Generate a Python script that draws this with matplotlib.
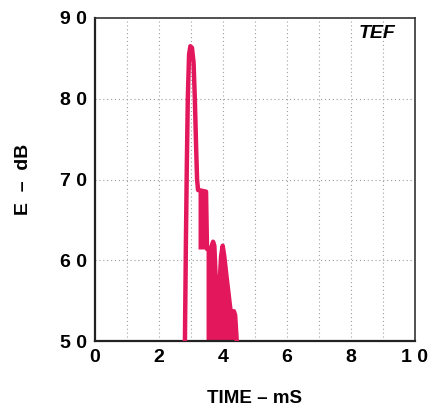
import matplotlib
matplotlib.use("Agg")
from matplotlib import pyplot as plt

# ETC trace
time_ms = [2.81, 2.84, 2.87, 2.90, 2.94, 2.98, 3.03, 3.08, 3.12, 3.16, 3.19, 3.22,
           3.35, 3.47, 3.50, 3.60, 3.65, 3.69, 3.73, 3.78, 3.83, 3.88, 3.94, 3.99,
           4.04, 4.11, 4.17, 4.22, 4.27, 4.31, 4.34, 4.38, 4.43]
level_db = [50.0, 62.0, 72.0, 80.0, 85.5, 86.5, 86.3, 84.5, 80.0, 74.0, 70.0, 68.7,
            68.6, 68.5, 61.4, 61.3, 61.8, 62.3, 61.8, 57.0, 50.5, 56.0, 60.5, 61.8,
            60.5, 58.0, 56.0, 54.3, 52.9, 53.4, 53.7, 53.2, 50.0]

x_ticks = [0, 2, 4, 6, 8, 10]
x_labels = ['0', '2', '4', '6', '8', '1 0']
y_ticks = [50, 60, 70, 80, 90]
y_labels = ['5 0', '6 0', '7 0', '8 0', '9 0']

trace = '#e3175c'

fig = plt.figure(figsize=(4.34, 4.08), dpi=100)
ax = fig.add_axes([0.219, 0.164, 0.737, 0.792])

# grid
for xv in range(1, 10):
    ax.axvline(xv, color='#9aa59a', lw=0.8, ls=(0, (1, 2.5)), zorder=1)
for yv in [60, 70, 80]:
    ax.axhline(yv, color='#9a9a9a', lw=0.8, ls=(0, (1, 2.5)), zorder=1)

# plateau and lower part of the decay are filled solid
plateau = [3.2 <= t <= 3.5 for t in time_ms]
lower = [t >= 3.47 for t in time_ms]
ax.fill_between(time_ms, 61.4, level_db, where=plateau, color=trace, lw=0, zorder=2)
ax.fill_between(time_ms, 50, level_db, where=lower, color=trace, lw=0, zorder=2)
ax.plot(time_ms, level_db, color=trace, lw=3.2, solid_joinstyle='round', zorder=3)

ax.set_xlim(0, 10)
ax.set_ylim(50, 90)
ax.set_xticks(x_ticks)
ax.set_xticklabels(x_labels)
ax.set_yticks(y_ticks)
ax.set_yticklabels(y_labels)
ax.tick_params(length=0, pad=6, labelsize=14)
for lab in ax.get_xticklabels() + ax.get_yticklabels():
    lab.set_fontweight('bold')
    lab.set_family('Liberation Sans')

for side in ['left', 'bottom']:
    ax.spines[side].set_linewidth(1.6)
    ax.spines[side].set_color('#222222')
for side in ['top', 'right']:
    ax.spines[side].set_linewidth(1.2)
    ax.spines[side].set_color('#333333')

ax.text(9.38, 89.1, 'TEF', ha='right', va='top', fontsize=14, fontweight='bold',
        style='italic', family='Liberation Sans')

ax.set_xlabel('TIME – mS', fontsize=13.5, fontweight='bold', family='Liberation Sans',
              labelpad=17)
ax.set_ylabel('E  –  dB', fontsize=14, fontweight='bold', family='Liberation Sans',
              labelpad=20)

fig.savefig('out.png', dpi=100)
